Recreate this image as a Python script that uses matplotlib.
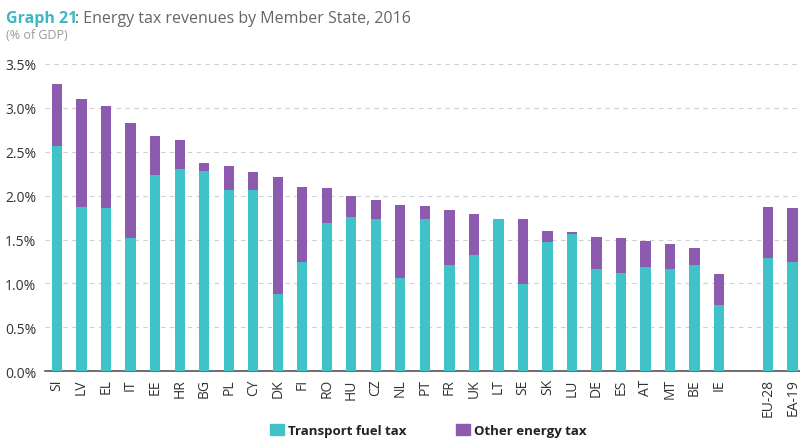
import numpy as np
import matplotlib.pyplot as plt

countries = ["SI", "LV", "EL", "IT", "EE", "HR", "BG", "PL", "CY", "DK", "FI", "RO",
             "HU", "CZ", "NL", "PT", "FR", "UK", "LT", "SE", "SK", "LU", "DE", "ES",
             "AT", "MT", "BE", "IE", "EU-28", "EA-19"]
total = [3.27, 3.10, 3.02, 2.83, 2.68, 2.63, 2.37, 2.34, 2.27, 2.21, 2.10, 2.09,
         2.00, 1.95, 1.89, 1.88, 1.84, 1.79, 1.74, 1.74, 1.60, 1.59, 1.53, 1.52,
         1.48, 1.45, 1.40, 1.11, 1.87, 1.86]
transport = [2.57, 1.87, 1.86, 1.52, 2.24, 2.30, 2.28, 2.06, 2.07, 0.88, 1.25, 1.69,
             1.76, 1.73, 1.06, 1.73, 1.21, 1.32, 1.74, 0.99, 1.47, 1.56, 1.16, 1.12,
             1.19, 1.17, 1.21, 0.76, 1.29, 1.24]
other = [t - f for t, f in zip(total, transport)]

teal = "#40C3C8"
purple = "#8C5AAE"

plt.rcParams['font.family'] = ['Open Sans', 'DejaVu Sans']

# member states, then a gap before the two aggregates
x = np.array(list(range(28)) + [29, 30])

fig = plt.figure(figsize=(8, 4.39), dpi=100)
ax = fig.add_axes([0.056, 0.152, 0.944, 0.71])

ax.bar(x, transport, width=0.42, color=teal, zorder=3)
ax.bar(x, other, width=0.42, bottom=transport, color=purple, zorder=3)

ax.set_xlim(-0.5, 30.3)
ax.set_ylim(0, 3.55)
ax.set_yticks(np.arange(0, 3.51, 0.5))
ax.set_yticklabels(["{:.1f}%".format(v) for v in np.arange(0, 3.51, 0.5)])
ax.set_xticks(x)
ax.set_xticklabels(countries, rotation=90)
ax.tick_params(axis='both', length=0, colors="#333333", labelsize=10)
ax.tick_params(axis='x', pad=5)
ax.tick_params(axis='y', pad=6)
ax.grid(axis='y', color="#d0d0d0", linestyle=(0, (4, 4)), lw=0.8, zorder=0)
for s in ["top", "right", "left"]:
    ax.spines[s].set_visible(False)
ax.spines["bottom"].set_color("#555555")
ax.spines["bottom"].set_linewidth(1.2)

fig.text(0.008, 0.975, "Graph 21", color="#3DB8C4", fontsize=11.5, fontweight="bold", va="top")
fig.text(0.094, 0.975, ": Energy tax revenues by Member State, 2016", color="#666666",
         fontsize=11.5, va="top")
fig.text(0.008, 0.935, "(% of GDP)", color="#999999", fontsize=9, va="top")

# legend
fig.patches.append(plt.Rectangle((0.338, 0.007), 0.017, 0.025, color=teal, transform=fig.transFigure))
fig.text(0.36, 0.018, "Transport fuel tax", fontsize=9.5, fontweight="bold", color="#222222", va="center")
fig.patches.append(plt.Rectangle((0.57, 0.007), 0.017, 0.025, color=purple, transform=fig.transFigure))
fig.text(0.592, 0.018, "Other energy tax", fontsize=9.5, fontweight="bold", color="#222222", va="center")

plt.savefig("out.png", dpi=100, facecolor="white")
